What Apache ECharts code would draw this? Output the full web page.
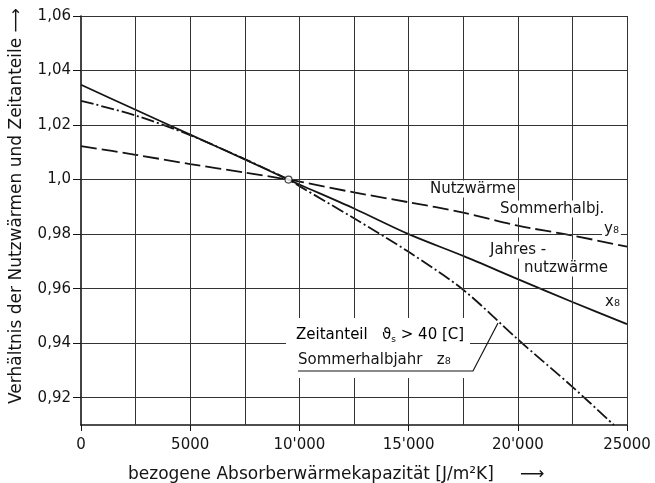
<!DOCTYPE html>
<html>
<head>
<meta charset="utf-8">
<script src="https://cdn.jsdelivr.net/npm/echarts@6/dist/echarts.min.js"></script>
<style>
  html, body { margin: 0; padding: 0; background: #fff; }
  #chart { width: 655px; height: 483px; }
</style>
</head>
<body>
<div id="chart"></div>
<script>
const xValues = [0, 2500, 5000, 7500, 9500, 10000, 12500, 15000, 17500, 20000, 22500, 25000]
// Jahresnutzwärme x8 (solid)
const jahresX8 = [1.0348, 1.0256, 1.0165, 1.0074, 1.0, 0.9982, 0.9894, 0.980, 0.972, 0.9635, 0.9551, 0.947]
// Nutzwärme Sommerhalbjahr y8 (dashed)
const sommerY8 = [1.0123, 1.0091, 1.0057, 1.0026, 1.0, 0.9993, 0.9953, 0.9917, 0.9879, 0.9831, 0.9795, 0.9754]
// Zeitanteil z8 (dash-dot), ends where it leaves the plot
const zeitX = [0, 2500, 5000, 7500, 9500, 10000, 12500, 15000, 17500, 20000, 22500, 24400]
const zeitZ8 = [1.0289, 1.0235, 1.0163, 1.0075, 1.0, 0.9976, 0.9858, 0.9735, 0.9596, 0.9414, 0.924, 0.910]
// common point
const refPoint = [9500, 1.0]

const xTickValues = [0, 5000, 10000, 15000, 20000, 25000]
const xTickLabels = ['0', '5000', "10'000", "15'000", "20'000", '25000']
const xGridValues = [2500, 5000, 7500, 10000, 12500, 15000, 17500, 20000, 22500, 25000]
const yTickValues = [0.92, 0.94, 0.96, 0.98, 1.0, 1.02, 1.04, 1.06]
const yTickLabels = ['0,92', '0,94', '0,96', '0,98', '1,0', '1,02', '1,04', '1,06']

const FONT = '"DejaVu Sans", sans-serif'
const INK = '#141414'

const zip = (xs, ys) => xs.map((x, i) => [x, ys[i]])
const lookup = (vals, labels, v) => {
  const i = vals.findIndex(t => Math.abs(t - v) < 1e-6)
  return i < 0 ? '' : labels[i]
}

const chart = echarts.init(document.getElementById('chart'))

const label = (text, x, y, bg) => ({
  type: 'text',
  z: 100,
  x: x,
  y: y,
  style: {
    text: text,
    font: '15px ' + FONT,
    fill: INK,
    align: 'left',
    verticalAlign: 'middle',
    backgroundColor: bg === false ? null : '#fff',
    padding: [1, 2]
  }
})

const option = {
  backgroundColor: '#fff',
  animation: false,
  grid: { left: 81, right: 28, top: 16, bottom: 58 },
  xAxis: {
    type: 'value',
    min: 0,
    max: 25000,
    interval: 2500,
    axisLine: { lineStyle: { color: INK, width: 1.6 } },
    axisTick: { show: true, length: 6, customValues: xTickValues, lineStyle: { color: INK } },
    axisLabel: {
      customValues: xTickValues,
      margin: 13,
      color: INK,
      fontSize: 15,
      fontFamily: FONT,
      formatter: v => lookup(xTickValues, xTickLabels, v)
    },
    splitLine: { show: false }
  },
  yAxis: {
    type: 'value',
    min: 0.91,
    max: 1.06,
    interval: 0.01,
    axisLine: { show: true, lineStyle: { color: INK, width: 1.6 } },
    axisTick: { show: true, length: 8, customValues: yTickValues, lineStyle: { color: INK } },
    axisLabel: {
      customValues: yTickValues,
      margin: 10,
      color: INK,
      fontSize: 15,
      fontFamily: FONT,
      formatter: v => lookup(yTickValues, yTickLabels, v)
    },
    splitLine: { show: false }
  },
  series: [
    {
      name: 'y8',
      type: 'line',
      data: zip(xValues, sommerY8),
      showSymbol: false,
      smooth: 0.3,
      lineStyle: { color: INK, width: 1.8, type: [16, 5] },
      markLine: {
        silent: true,
        symbol: 'none',
        label: { show: false },
        lineStyle: { color: '#333', width: 1, type: 'solid' },
        data: yTickValues.map(v => ({ yAxis: v })).concat(xGridValues.map(v => ({ xAxis: v })))
      }
    },
    {
      name: 'x8',
      type: 'line',
      data: zip(xValues, jahresX8),
      showSymbol: false,
      smooth: 0.3,
      lineStyle: { color: INK, width: 1.8 }
    },
    {
      name: 'z8',
      type: 'line',
      data: zip(zeitX, zeitZ8),
      showSymbol: false,
      smooth: 0.3,
      lineStyle: { color: INK, width: 1.8, type: [13, 3, 2, 3] }
    },
    {
      type: 'scatter',
      data: [refPoint],
      symbol: 'circle',
      symbolSize: 7,
      z: 10,
      itemStyle: { color: '#fff', borderColor: INK, borderWidth: 1.2 }
    }
  ],
  graphic: [
    // blank patch behind the z8 annotation
    { type: 'rect', z: 99, shape: { x: 286, y: 318, width: 184, height: 60 }, style: { fill: '#fff' } },
    label('Nutzwärme', 428, 189),
    label('Sommerhalbj.', 498, 209),
    label('y₈', 602, 229),
    label('Jahres -', 488, 250),
    label('nutzwärme', 522, 268),
    label('x₈', 603, 302),
    {
      type: 'text', z: 100, x: 296, y: 335,
      style: {
        text: '{a|Zeitanteil   ϑ}{s|s}{a| > 40 [C]}',
        verticalAlign: 'middle',
        rich: {
          a: { fontSize: 15, fontFamily: FONT, color: INK },
          s: { fontSize: 9, fontFamily: FONT, color: INK, padding: [9, 0, 0, 0] }
        }
      }
    },
    label('Sommerhalbjahr   z₈', 296, 360, false),
    {
      type: 'polyline', z: 100,
      shape: { points: [[298, 371], [473, 371], [498, 323]] },
      style: { stroke: INK, lineWidth: 1.2, fill: null }
    },
    // axis titles
    {
      type: 'text', z: 100, x: 17, y: 206, rotation: Math.PI / 2,
      style: {
        text: 'Verhältnis der Nutzwärmen und Zeitanteile ⟶',
        font: '17px ' + FONT, fill: INK, align: 'center', verticalAlign: 'middle'
      }
    },
    {
      type: 'text', z: 100, x: 128, y: 475,
      style: {
        text: 'bezogene Absorberwärmekapazität [J/m²K]',
        font: '17px ' + FONT, fill: INK, align: 'left', verticalAlign: 'middle'
      }
    },
    {
      type: 'text', z: 100, x: 520, y: 475,
      style: { text: '⟶', font: '17px ' + FONT, fill: INK, align: 'left', verticalAlign: 'middle' }
    }
  ]
}

chart.setOption(option)
</script>
</body>
</html>
